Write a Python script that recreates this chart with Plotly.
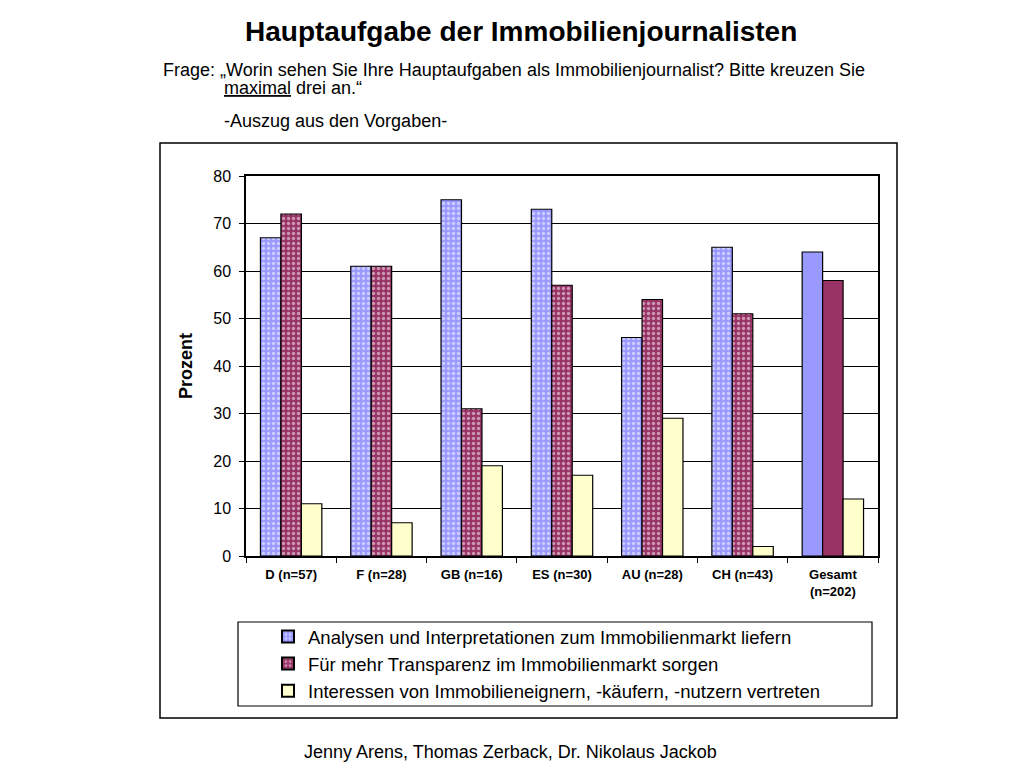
import plotly.graph_objects as go

categories = ["D (n=57)", "F (n=28)", "GB (n=16)", "ES (n=30)", "AU (n=28)", "CH (n=43)", "Gesamt<br>(n=202)"]
series_names = [
    "Analysen und Interpretationen zum Immobilienmarkt liefern",
    "Für mehr Transparenz im Immobilienmarkt sorgen",
    "Interessen von Immobilieneignern, -käufern, -nutzern vertreten",
]
analysen = [67, 61, 75, 73, 46, 65, 64]
transparenz = [72, 61, 31, 57, 54, 51, 58]
interessen = [11, 7, 19, 17, 29, 2, 12]
y_ticks = [0, 10, 20, 30, 40, 50, 60, 70, 80]

colors = ["#9999FF", "#993366", "#FFFFCC"]
dotted = [True, True, False]
values = [analysen, transparenz, interessen]

W, H = 1024, 768
OFF = 8  # page body margin
L, R, T, B = 246 - OFF, 878 - OFF, 176 - OFF, 556 - OFF


def px(x):
    return (x - OFF - L) / (R - L)


def py(y):
    return (B - (y - OFF)) / (B - T)


FONT = "Liberation Sans, Arial, sans-serif"

fig = go.Figure()
for name, vals, col, dot in zip(series_names, values, colors, dotted):
    if dot:
        shapes = ["."] * (len(categories) - 1) + [""]
        pattern = dict(shape=shapes, fgcolor="white", bgcolor=col, size=5, solidity=0.35)
    else:
        pattern = dict(shape="")
    fig.add_trace(go.Bar(
        x=categories, y=vals, name=name,
        marker=dict(color=col, line=dict(color="black", width=1.2), pattern=pattern),
    ))

fig.update_layout(
    width=W, height=H,
    margin=dict(l=L, r=W - R, t=T, b=H - B, autoexpand=False),
    paper_bgcolor="white", plot_bgcolor="white",
    barmode="group", bargap=0.32, bargroupgap=0,
    font=dict(family=FONT, color="black"),
    showlegend=True,
    legend=dict(
        x=px(268), y=py(618), xanchor="left", yanchor="top",
        bgcolor="rgba(0,0,0,0)", borderwidth=0,
        font=dict(size=18.5, family=FONT), tracegroupgap=0,
        itemsizing="constant",
    ),
)

fig.update_yaxes(
    range=[0, 80], tickvals=y_ticks, ticks="outside", ticklen=5, tickcolor="black",
    showgrid=True, gridcolor="black", gridwidth=1,
    showline=True, linecolor="black", linewidth=1.5, mirror=True,
    tickfont=dict(size=16), zeroline=False, ticklabelstandoff=5,
    title=dict(text="<b>Prozent</b>", font=dict(size=18), standoff=16),
)
fig.update_xaxes(
    ticks="outside", ticklen=5, tickcolor="black", tickson="boundaries",
    showline=True, linecolor="black", linewidth=1.5, mirror=True,
    tickfont=dict(size=13), tickangle=0, ticklabelstandoff=6,
)
fig.update_xaxes(ticktext=["<b>" + c + "</b>" for c in categories], tickvals=categories)

# outer frame and legend box
fig.add_shape(type="rect", xref="paper", yref="paper",
              x0=px(160), x1=px(897), y0=py(718), y1=py(143),
              line=dict(color="black", width=1.5), fillcolor="rgba(0,0,0,0)", layer="below")
fig.add_shape(type="rect", xref="paper", yref="paper",
              x0=px(238), x1=px(872), y0=py(706), y1=py(622),
              line=dict(color="black", width=1.2), fillcolor="rgba(0,0,0,0)")

ann = [
    dict(text="<b>Hauptaufgabe der Immobilienjournalisten</b>", x=px(521), y=py(32), size=28, xanchor="center"),
    dict(text="Frage: „Worin sehen Sie Ihre Hauptaufgaben als Immobilienjournalist? Bitte kreuzen Sie", x=px(161), y=py(70), size=18, xanchor="left"),
    dict(text="<u>maximal</u> drei an.“", x=px(222), y=py(88), size=18, xanchor="left"),
    dict(text="-Auszug aus den Vorgaben-", x=px(222), y=py(121), size=18, xanchor="left"),
    dict(text="Jenny Arens, Thomas Zerback, Dr. Nikolaus Jackob", x=px(510), y=py(752), size=18, xanchor="center"),
]
for a in ann:
    fig.add_annotation(text=a["text"], x=a["x"], y=a["y"], xref="paper", yref="paper",
                       xanchor=a["xanchor"], yanchor="middle", showarrow=False,
                       font=dict(size=a["size"], family=FONT, color="black"))

fig.write_html("out.html")
